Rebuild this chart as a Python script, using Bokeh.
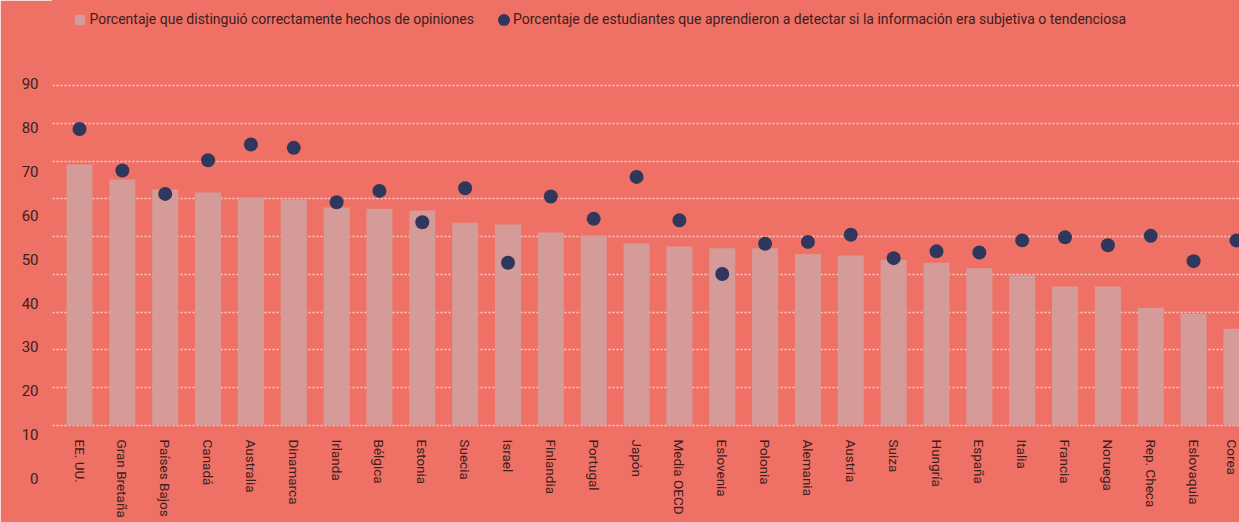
import numpy as np
from bokeh.plotting import figure
from bokeh.models import (Range1d, LinearAxis, FixedTicker, ColumnDataSource,
                          Legend, LegendItem)
from bokeh.embed import file_html
from bokeh.resources import INLINE

countries = ["EE. UU.", "Gran Bretaña", "Países Bajos", "Canadá", "Australia",
             "Dinamarca", "Irlanda", "Bélgica", "Estonia", "Suecia", "Israel",
             "Finlandia", "Portugal", "Japón", "Media OECD", "Eslovenia",
             "Polonia", "Alemania", "Austria", "Suiza", "Hungría", "España",
             "Italia", "Francia", "Noruega", "Rep. Checa", "Eslovaquia", "Corea"]
distinguished = [69.1, 65.1, 62.5, 61.7, 60.3, 59.8, 57.7, 57.4, 56.9, 53.7,
                 53.2, 51.1, 50.3, 48.2, 47.4, 46.9, 46.9, 45.3, 45.0, 43.9,
                 43.1, 41.6, 39.7, 36.8, 36.8, 31.2, 29.5, 25.6]
taught = [78.5, 67.5, 61.3, 70.2, 74.4, 73.5, 59.1, 62.1, 53.8, 62.8,
          43.1, 60.6, 54.7, 65.8, 54.3, 40.1, 48.1, 48.6, 50.5, 44.3,
          46.1, 45.8, 49.0, 49.8, 47.7, 50.2, 43.5, 49.0]
y_ticks = [0, 10, 20, 30, 40, 50, 60, 70, 80, 90]
legend_labels = ["Porcentaje que distinguió correctamente hechos de opiniones",
                 "Porcentaje de estudiantes que aprendieron a detectar si la información era subjetiva o tendenciosa"]

BG = "#EF7065"
BAR = "#D49B99"
DOT = "#2F385C"
TXT = "#3B2020"
GRID = "#F9CFC9"
FONT = "Roboto"

W, H = 1239, 522
FL, FR, FT, FB = 52, 1239, 0, 522  # frame in canvas px

# x: category i centre at canvas 79 + 42.85*i
x0 = (FL - 79) / 42.85
x1 = (FR - 79) / 42.85
# y: 0 at canvas 425, 90 at canvas 85
ppu = (425 - 85) / 90
y_lo = -(FB - 425) / ppu
y_hi = (425 - FT) / ppu
# tick-label axis: 0 at canvas 478, 90 at canvas 83.3
lpu = (478 - 83.3) / 90
l_lo = -(FB - 478) / lpu
l_hi = (478 - FT) / lpu

src = ColumnDataSource(dict(x=list(range(len(countries))), d=distinguished, t=taught))

p = figure(width=W, height=H, output_backend="svg", toolbar_location=None,
           x_range=Range1d(x0, x1), y_range=Range1d(y_lo, y_hi),
           x_axis_location=None, y_axis_location=None,
           min_border_left=FL, min_border_right=0, min_border_top=0, min_border_bottom=0,
           background_fill_color=BG, border_fill_color=BG,
           outline_line_color=BG, outline_line_width=2)
p.extra_y_ranges = {"lab": Range1d(l_lo, l_hi)}

p.xgrid.visible = False
p.ygrid.ticker = FixedTicker(ticks=y_ticks)
p.ygrid.grid_line_color = GRID
p.ygrid.grid_line_dash = "2 2"
p.ygrid.grid_line_width = 1.5

bars = p.vbar(x="x", top="d", bottom=0, width=0.607, source=src,
              fill_color=BAR, line_color=None)
dots = p.ellipse(x="x", y="t", width=14, height=14, width_units="screen",
                 height_units="screen", source=src, fill_color=DOT, line_color=None)

xaxis = LinearAxis(ticker=FixedTicker(ticks=list(range(len(countries)))),
                   major_label_overrides={i: c for i, c in enumerate(countries)},
                   fixed_location=0, major_label_orientation="vertical",
                   axis_line_color=None, major_tick_line_color=None,
                   minor_tick_line_color=None, major_tick_out=0, major_tick_in=0,
                   major_label_standoff=14, major_label_text_font=FONT,
                   major_label_text_font_size="13.5px", major_label_text_color=TXT)
p.add_layout(xaxis, "below")

yaxis = LinearAxis(y_range_name="lab", ticker=FixedTicker(ticks=y_ticks),
                   axis_line_color=None, major_tick_line_color=None,
                   minor_tick_line_color=None, major_tick_out=0, major_tick_in=0,
                   major_label_standoff=14, major_label_text_font=FONT,
                   major_label_text_font_size="15px", major_label_text_color=TXT)
p.add_layout(yaxis, "left")

def mk_legend(item, gw, loc, standoff):
    return Legend(items=[item], location=loc, orientation="horizontal",
                  glyph_width=gw, glyph_height=gw, padding=0, margin=0, spacing=0,
                  label_standoff=standoff, label_text_font=FONT,
                  label_text_font_size="14px", label_text_color=TXT,
                  background_fill_alpha=0, border_line_color=None)

lg1 = mk_legend(LegendItem(label=legend_labels[0], renderers=[bars]), 13,
                (20.5, 495), 4)
lg2 = mk_legend(LegendItem(label=legend_labels[1], renderers=[dots]), 15,
                (444, 495), 2)
p.add_layout(lg1, "center")
p.add_layout(lg2, "center")

open("out.html", "w").write(file_html(p, INLINE))
